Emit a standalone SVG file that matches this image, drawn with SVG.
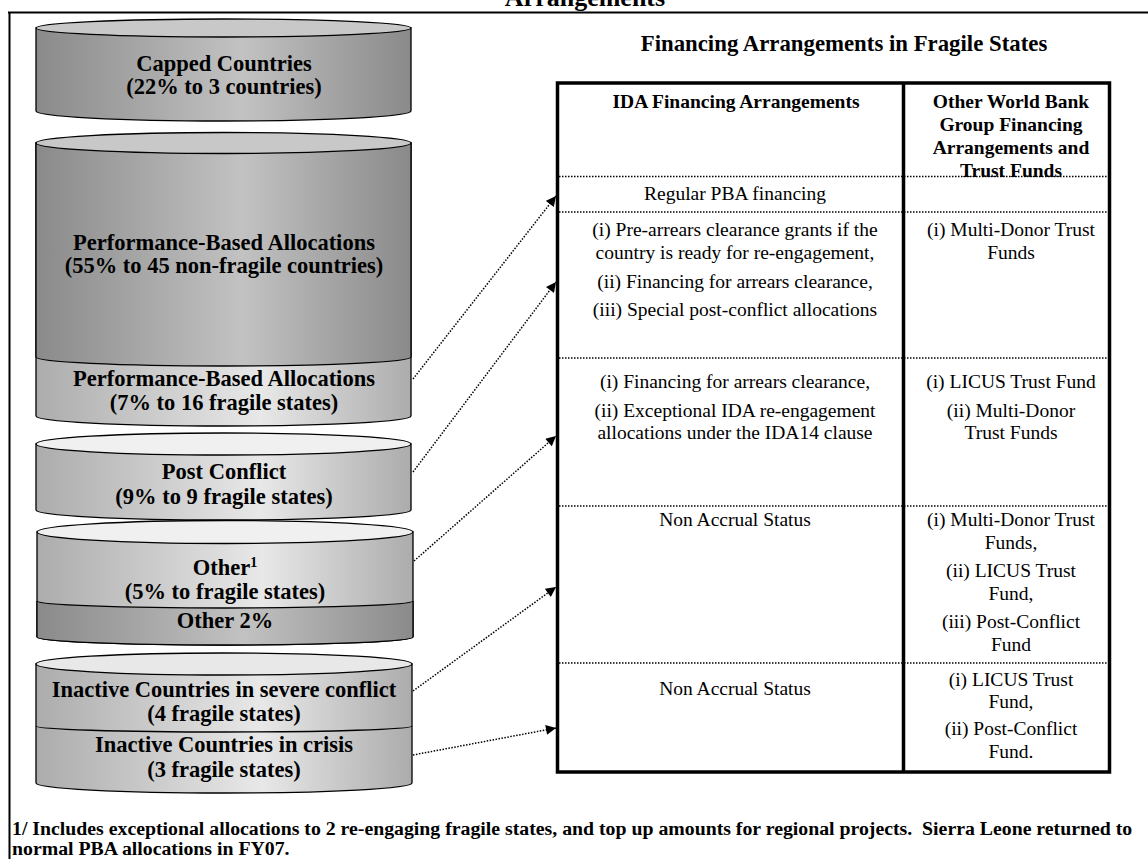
<svg xmlns="http://www.w3.org/2000/svg" width="1148" height="859" viewBox="0 0 1148 859">
<defs>
  <linearGradient id="gDark" x1="0" x2="1" y1="0" y2="0">
    <stop offset="0" stop-color="#8a8a8a"/>
    <stop offset="0.55" stop-color="#c2c2c2"/>
    <stop offset="1" stop-color="#8a8a8a"/>
  </linearGradient>
  <linearGradient id="gLight" x1="0" x2="1" y1="0" y2="0">
    <stop offset="0" stop-color="#acacac"/>
    <stop offset="0.6" stop-color="#e8e8e8"/>
    <stop offset="1" stop-color="#acacac"/>
  </linearGradient>
  <marker id="arr" viewBox="0 0 10 10" refX="10" refY="5" markerWidth="11" markerHeight="10" markerUnits="userSpaceOnUse" orient="auto">
    <path d="M0,0 L10,5 L0,10 z" fill="#000"/>
  </marker>
</defs>
<style>
  .t{font-family:"Liberation Serif","Times New Roman",serif;fill:#000}
  .cb{font-size:22.5px;font-weight:bold;text-anchor:middle}
  .hd{font-size:19.5px;font-weight:bold;text-anchor:middle}
  .bd{font-size:19.5px;text-anchor:middle}
  .ol{stroke:#000;stroke-width:1.3}
  .dot{stroke:#000;stroke-width:1.5;stroke-dasharray:1.5 1.5;fill:none}
  .conn{stroke:#000;stroke-width:1.5;stroke-dasharray:1.5 1.5;fill:none;marker-end:url(#arr)}
  .bord{stroke:#000;stroke-width:3.5;fill:none}
  .frame{stroke:#000;stroke-width:2;fill:none}
</style>
<rect width="1148" height="859" fill="#fff"/>

<g id="frame">
  <text class="t" x="585" y="6" style="font-size:26px;font-weight:bold;text-anchor:middle">Arrangements</text>
  <path class="frame" d="M8,12.5 H1148 M9.5,12 V859"/>
</g>

<g id="cyl-capped">
  <path class="ol" d="M36,28 V111 A187.5,10 0 0 0 411,111 V28 Z" fill="url(#gDark)"/>
  <ellipse class="ol" cx="223.5" cy="28" rx="187.5" ry="9" fill="#c8c8c8"/>
  <text class="t cb" x="224" y="71">Capped Countries</text>
  <text class="t cb" x="224" y="94">(22% to 3 countries)</text>
</g>

<g id="cyl-pba">
  <path class="ol" d="M36,143 V416 A187.5,10 0 0 0 411,416 V143 Z" fill="url(#gLight)"/>
  <path class="ol" d="M36,143 V357 A187.5,9 0 0 0 411,357 V143 Z" fill="url(#gDark)"/>
  <ellipse class="ol" cx="223.5" cy="143" rx="187.5" ry="10.5" fill="#c8c8c8"/>
  <text class="t cb" x="224" y="250">Performance-Based Allocations</text>
  <text class="t cb" x="224" y="273">(55% to 45 non-fragile countries)</text>
  <text class="t cb" x="224" y="386">Performance-Based Allocations</text>
  <text class="t cb" x="224" y="410">(7% to 16 fragile states)</text>
</g>

<g id="cyl-post">
  <path class="ol" d="M36,444 V510 A187.5,10 0 0 0 411,510 V444 Z" fill="url(#gLight)"/>
  <ellipse class="ol" cx="223.5" cy="444" rx="187.5" ry="11" fill="#f0f0f0"/>
  <text class="t cb" x="224" y="479">Post Conflict</text>
  <text class="t cb" x="224" y="504">(9% to 9 fragile states)</text>
</g>

<g id="cyl-other">
  <path class="ol" d="M37,532 V637 A188,8 0 0 0 413,637 V532 Z" fill="url(#gLight)"/>
  <path class="ol" d="M37,601 A188,7 0 0 0 413,601 V637 A188,8 0 0 1 37,637 Z" fill="url(#gDark)"/>
  <ellipse class="ol" cx="225" cy="532" rx="188" ry="11.5" fill="#f0f0f0"/>
  <text class="t cb" x="225" y="575">Other<tspan style="font-size:14px" dy="-8">1</tspan></text>
  <text class="t cb" x="225" y="599">(5% to fragile states)</text>
  <text class="t cb" x="225" y="628">Other 2%</text>
</g>

<g id="cyl-inactive">
  <path class="ol" d="M36,664 V783 A188,10 0 0 0 412,783 V664 Z" fill="url(#gLight)"/>
  <path class="ol" d="M36,726 A188,6 0 0 0 412,726" fill="none"/>
  <ellipse class="ol" cx="224" cy="664" rx="188" ry="11" fill="#e8e8e8"/>
  <text class="t cb" x="224" y="697">Inactive Countries in severe conflict</text>
  <text class="t cb" x="224" y="721">(4 fragile states)</text>
  <text class="t cb" x="224" y="752">Inactive Countries in crisis</text>
  <text class="t cb" x="224" y="777">(3 fragile states)</text>
</g>

<g id="table">
  <text class="t" x="844" y="51" style="font-size:22.8px;font-weight:bold;text-anchor:middle">Financing Arrangements in Fragile States</text>
  <path class="dot" d="M559,176.5 H1108 M559,212 H1108 M559,358 H1108 M559,506 H1108 M559,663 H1108"/>
  <rect class="bord" x="557.5" y="83" width="552" height="689"/>
  <path class="bord" d="M903.5,83 V772"/>
  <g id="hdr-ida"><text class="t hd" x="736" y="108">IDA Financing Arrangements</text></g>
  <g id="hdr-other">
    <text class="t hd" x="1011" y="108">Other World Bank</text>
    <text class="t hd" x="1011" y="131">Group Financing</text>
    <text class="t hd" x="1011" y="154">Arrangements and</text>
    <text class="t hd" x="1011" y="177">Trust Funds</text>
  </g>
  <g id="row1"><text class="t bd" x="735" y="200">Regular PBA financing</text></g>
  <g id="row2">
    <text class="t bd" x="735" y="236">(i) Pre-arrears clearance grants if the</text>
    <text class="t bd" x="735" y="259">country is ready for re-engagement,</text>
    <text class="t bd" x="735" y="288">(ii) Financing for arrears clearance,</text>
    <text class="t bd" x="735" y="316">(iii) Special post-conflict allocations</text>
    <text class="t bd" x="1011" y="236">(i) Multi-Donor Trust</text>
    <text class="t bd" x="1011" y="259">Funds</text>
  </g>
  <g id="row3">
    <text class="t bd" x="735" y="388">(i) Financing for arrears clearance,</text>
    <text class="t bd" x="735" y="417">(ii) Exceptional IDA re-engagement</text>
    <text class="t bd" x="735" y="439">allocations under the IDA14 clause</text>
    <text class="t bd" x="1011" y="388">(i) LICUS Trust Fund</text>
    <text class="t bd" x="1011" y="417">(ii) Multi-Donor</text>
    <text class="t bd" x="1011" y="439">Trust Funds</text>
  </g>
  <g id="row4">
    <text class="t bd" x="735" y="526">Non Accrual Status</text>
    <text class="t bd" x="1011" y="526">(i) Multi-Donor Trust</text>
    <text class="t bd" x="1011" y="549">Funds,</text>
    <text class="t bd" x="1011" y="577">(ii) LICUS Trust</text>
    <text class="t bd" x="1011" y="600">Fund,</text>
    <text class="t bd" x="1011" y="628">(iii) Post-Conflict</text>
    <text class="t bd" x="1011" y="651">Fund</text>
  </g>
  <g id="row5">
    <text class="t bd" x="735" y="695">Non Accrual Status</text>
    <text class="t bd" x="1011" y="686">(i) LICUS Trust</text>
    <text class="t bd" x="1011" y="708">Fund,</text>
    <text class="t bd" x="1011" y="735">(ii) Post-Conflict</text>
    <text class="t bd" x="1011" y="758">Fund.</text>
  </g>
</g>

<g id="connectors">
  <line class="conn" x1="413" y1="379" x2="556" y2="196"/>
  <line class="conn" x1="413" y1="472" x2="556" y2="282"/>
  <line class="conn" x1="414" y1="561" x2="556" y2="436"/>
  <line class="conn" x1="413" y1="691" x2="556" y2="587"/>
  <line class="conn" x1="413" y1="755" x2="556" y2="728"/>
</g>

<g id="footnote">
  <text class="t" x="12" y="835" style="font-size:19.8px;font-weight:bold;white-space:pre">1/ Includes exceptional allocations to 2 re-engaging fragile states, and top up amounts for regional projects.  Sierra Leone returned to</text>
  <text class="t" x="12" y="855" style="font-size:19.8px;font-weight:bold">normal PBA allocations in FY07.</text>
</g>
</svg>
